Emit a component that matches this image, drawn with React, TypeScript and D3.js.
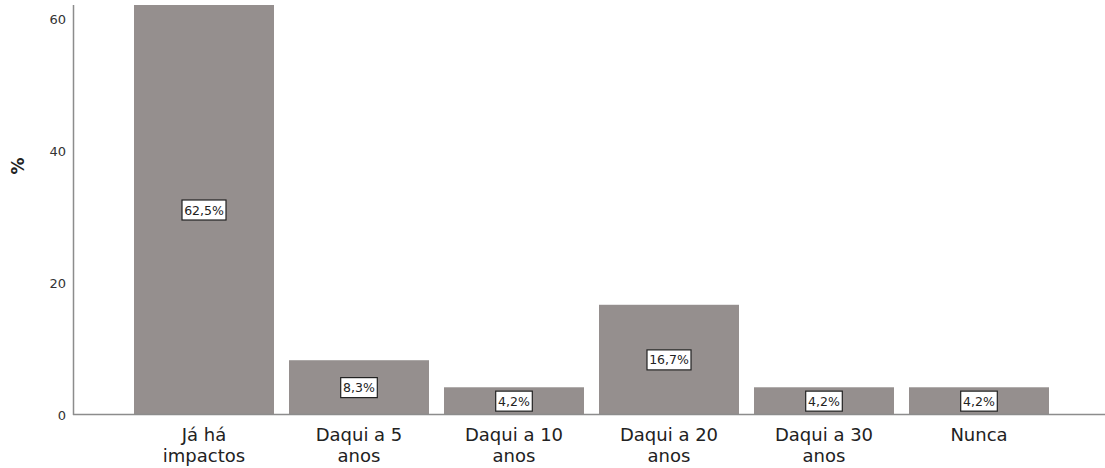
import React from 'react'
import * as d3 from 'd3'

const categories = ['Já há|impactos', 'Daqui a 5|anos', 'Daqui a 10|anos', 'Daqui a 20|anos', 'Daqui a 30|anos', 'Nunca']
const percents = [62.5, 8.3, 4.2, 16.7, 4.2, 4.2]
const yTicks = [0, 20, 40, 60]

const W = 1105
const H = 468
const FONT = 'DejaVu Sans, sans-serif'

export default function App() {
  const y = d3.scaleLinear().domain([0, 62.12]).range([415, 5])
  const x = d3.scaleBand<string>()
    .domain(categories)
    .range([119, 1064])
    .paddingInner(0.0968)
    .paddingOuter(0.0968)

  return (
    <svg width={W} height={H} style={{ position: 'absolute', left: 0, top: 0, background: '#fff' }}>
      <defs>
        <clipPath id="plot">
          <rect x={74} y={5} width={W - 74} height={410} />
        </clipPath>
      </defs>

      {/* 柱 */}
      <g clipPath="url(#plot)">
        {categories.map((c, i) => (
          <rect
            key={c}
            x={x(c)!}
            y={y(percents[i])}
            width={x.bandwidth()}
            height={y(0) - y(percents[i])}
            fill="#958f8e"
          />
        ))}
      </g>

      {/* 軸線 */}
      <line x1={73.5} x2={73.5} y1={5} y2={415} stroke="#8c8c8c" strokeWidth={1.5} />
      <line x1={73} x2={W} y1={414.5} y2={414.5} stroke="#8c8c8c" strokeWidth={1.5} />

      {/* Y 刻度 */}
      {yTicks.map(t => (
        <text key={t} x={66} y={y(t) + 5} textAnchor="end" fontFamily={FONT} fontSize={13} fill="#333">
          {t}
        </text>
      ))}
      <text
        transform="translate(24,166) rotate(-90)"
        textAnchor="middle"
        fontFamily={FONT}
        fontSize={17}
        fontWeight="bold"
        fill="#222"
      >
        %
      </text>

      {/* 數值標籤 */}
      {categories.map((c, i) => {
        const top = Math.max(y(percents[i]), 5)
        const cy = (top + y(0)) / 2
        const cx = x(c)! + x.bandwidth() / 2
        const label = percents[i].toFixed(1).replace('.', ',') + '%'
        const w = label.length * 7.4 + 7
        return (
          <g key={c}>
            <rect x={cx - w / 2} y={cy - 10} width={w} height={20} fill="#fff" stroke="#222" strokeWidth={1.2} />
            <text x={cx} y={cy + 4.5} textAnchor="middle" fontFamily={FONT} fontSize={12.5} fill="#222">
              {label}
            </text>
          </g>
        )
      })}

      {/* X 類別 */}
      {categories.map(c => {
        const cx = x(c)! + x.bandwidth() / 2
        return (
          <text key={c} textAnchor="middle" fontFamily={FONT} fontSize={18} fill="#222">
            {c.split('|').map((line, j) => (
              <tspan key={j} x={cx} y={441 + j * 20.5}>{line}</tspan>
            ))}
          </text>
        )
      })}
    </svg>
  )
}
